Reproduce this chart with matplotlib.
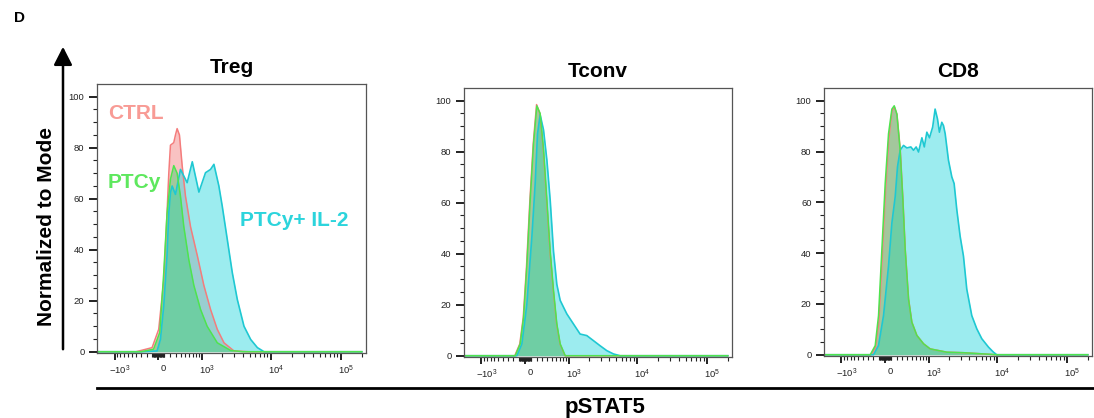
import numpy as np
import matplotlib
matplotlib.use("Agg")
import matplotlib.pyplot as plt
from matplotlib.ticker import FixedLocator, FixedFormatter
from matplotlib.transforms import ScaledTranslation
from matplotlib.patches import FancyArrowPatch
from matplotlib.lines import Line2D

plt.rcParams['font.family'] = ['Liberation Sans', 'DejaVu Sans']
plt.rcParams['mathtext.fontset'] = 'custom'
plt.rcParams['mathtext.rm'] = 'Liberation Sans'
plt.rcParams['mathtext.default'] = 'regular'

# pSTAT5 intensity (x) vs % of mode (y)
treg_ctrl_x = [-1800, -400, -105, 5, 88, 133, 174, 203, 263, 295, 327, 374, 431, 506, 632, 832, 1058, 1342, 1695, 2130, 2975, 5000, 200000]
treg_ctrl_y = [0, 0, 1.6, 8.8, 28, 49, 70, 81, 82, 85, 87.5, 85, 73, 61, 49, 37.5, 26, 16.6, 8.8, 3.5, 0.3, 0, 0]
treg_ptcy_x = [-1800, -300, -80, 22, 88, 143, 203, 263, 327, 395, 468, 588, 724, 936, 1190, 1695, 2665, 4000, 200000]
treg_ptcy_y = [0, 0, 1, 7.5, 31, 54, 67.6, 73, 70, 61, 49, 36, 26, 16.6, 10, 3.5, 0.5, 0, 0]
treg_il2_x = [-1800, -300, -22, 33, 88, 143, 174, 203, 233, 295, 395, 546, 679, 880, 1122, 1342, 1510, 1790, 2010, 2380, 2815, 3325, 4150, 5180, 6465, 8050, 200000]
treg_il2_y = [0, 0, 0.3, 4.8, 18, 37.5, 54.5, 62.4, 65, 61.7, 71.5, 66.3, 74.5, 62.6, 70.2, 71.5, 73.5, 65, 57, 44, 31, 20.5, 10, 4.8, 1.6, 0, 0]

tconv_ctrl_x = [-1800, -175, -90, -32, 22, 78, 134, 192, 252, 316, 384, 456, 533, 617, 710, 865, 200000]
tconv_ctrl_y = [0, 0, 4.6, 15, 35, 61, 83, 98.5, 95, 81, 61, 41, 25.6, 12.5, 4.6, 0, 0]
tconv_ptcy_x = [-1800, -168, -83, -27, 27, 83, 139, 197, 257, 321, 389, 461, 538, 622, 715, 870, 200000]
tconv_ptcy_y = [0, 0, 4.6, 15, 35, 61, 83, 98, 95, 81, 61, 41, 25.6, 12.5, 4.6, 0, 0]
tconv_il2_x = [-1800, -139, -55, 27, 111, 168, 209, 257, 321, 389, 461, 538, 622, 715, 816, 925, 1176, 1490, 1877, 2355, 2945, 3675, 4585, 5720, 200000]
tconv_il2_y = [0, 0, 4.6, 20, 46.6, 67.6, 87, 94.5, 88.6, 76.8, 61, 41, 28, 21.7, 19, 16.4, 12.5, 8.5, 7.9, 5.9, 3.9, 2, 0.7, 0, 0]

cd8_ctrl_x = [-1800, -240, -160, -105, -50, 5, 60, 115, 155, 200, 260, 310, 356, 426, 500, 624, 818, 1047, 1880, 3290, 5720, 9900, 200000]
cd8_ctrl_y = [0, 0, 3, 13, 38, 64, 85, 96, 97.5, 94.5, 80.5, 61, 41.4, 21.9, 12.8, 7.6, 4.3, 2.3, 1, 0.8, 0.4, 0, 0]
cd8_ptcy_x = [-1800, -257, -168, -111, -55, 0, 55, 111, 151, 197, 257, 308, 354, 424, 498, 622, 816, 1045, 1877, 3290, 5720, 9900, 200000]
cd8_ptcy_y = [0, 0, 3.6, 15.4, 41.4, 67.4, 87, 96.7, 98, 94.8, 80.5, 61, 41.4, 21.9, 12.8, 7.6, 4.3, 2.3, 1, 0.8, 0.4, 0, 0]
cd8_il2_x = [-1800, -197, -111, -27.5, 55, 111, 168, 209, 257, 321, 389, 476, 538, 605, 668, 765, 840, 925, 1020, 1145, 1250, 1360, 1455, 1580, 1675, 1775, 1985, 2225, 2405, 2635, 2945, 3290, 3675, 4340, 5125, 6050, 7545, 8900, 9900, 200000]
cd8_il2_y = [0, 0, 3.6, 15.4, 34.9, 51.8, 62.2, 74, 80.5, 82.4, 81.4, 81.8, 80.5, 81.8, 79.8, 85.4, 81.8, 87.6, 85.4, 89.6, 96.7, 92.8, 87.6, 91.5, 90.2, 87, 76.6, 70, 67.4, 57, 46.6, 38.8, 25.8, 15.4, 10.2, 6.3, 3, 1, 0, 0]

panels = ["Treg", "Tconv", "CD8"]
tick_vals = [-1000, 0, 1000, 10000, 100000]
tick_text = ["$-10^{3}$", "0", "$10^{3}$", "$10^{4}$", "$10^{5}$"]

# colours: CTRL, PTCy, PTCy+IL-2
col_ctrl = '#f47c7c'
col_ptcy = '#4ee44e'
col_il2 = '#1fc8d2'
fill_ctrl = '#f59a9a'
fill_ptcy = '#3ccf6e'
fill_il2 = '#3adbe0'

data = {
    "Treg": (treg_ctrl_x, treg_ctrl_y, treg_ptcy_x, treg_ptcy_y, treg_il2_x, treg_il2_y),
    "Tconv": (tconv_ctrl_x, tconv_ctrl_y, tconv_ptcy_x, tconv_ptcy_y, tconv_il2_x, tconv_il2_y),
    "CD8": (cd8_ctrl_x, cd8_ctrl_y, cd8_ptcy_x, cd8_ptcy_y, cd8_il2_x, cd8_il2_y),
}

W, H = 1094, 418
boxes = {"Treg": (97, 366, 84, 353), "Tconv": (464, 732, 88, 357), "CD8": (824, 1092, 88, 356)}

fig = plt.figure(figsize=(W / 100, H / 100), dpi=100)

C = 500.0
def fwd(x):
    return np.arcsinh(np.asarray(x) / C)
def inv(y):
    return C * np.sinh(np.asarray(y))

minor = list(range(-900, 0, 100)) + list(range(-90, 0, 10)) + list(range(10, 100, 10)) + \
    list(range(100, 1000, 100)) + list(range(2000, 10000, 1000)) + \
    list(range(20000, 100000, 10000)) + [200000]

axes = {}
for name in panels:
    l, r, t, b = boxes[name]
    ax = fig.add_axes([l / W, (H - b) / H, (r - l) / W, (b - t) / H])
    axes[name] = ax
    cx, cy, px, py, ix, iy = data[name]
    ax.set_xscale('function', functions=(fwd, inv))

    ax.fill_between(cx, cy, 0, color=fill_ctrl, alpha=0.6, lw=0)
    ax.plot(cx, cy, color=col_ctrl, lw=1.1)
    ax.fill_between(ix, iy, 0, color=fill_il2, alpha=0.5, lw=0)
    ax.plot(ix, iy, color=col_il2, lw=1.2)
    ax.fill_between(px, py, 0, color=fill_ptcy, alpha=0.45, lw=0)
    ax.plot(px, py, color=col_ptcy, lw=1.1)

    ax.set_xlim(-1850, 230000)
    ax.set_ylim(-0.5, 105)

    ax.xaxis.set_major_locator(FixedLocator(tick_vals))
    ax.xaxis.set_major_formatter(FixedFormatter(tick_text))
    ax.xaxis.set_minor_locator(FixedLocator(minor))
    ax.set_yticks([0, 20, 40, 60, 80, 100])
    ax.set_yticks(np.arange(0, 101, 5), minor=True)

    ax.tick_params(axis='both', which='major', direction='out', length=5, width=1.4,
                   labelsize=6.8, colors='#222222', pad=3)
    ax.tick_params(axis='both', which='minor', direction='out', length=3, width=0.8, colors='#222222')
    ax.tick_params(axis='y', which='major', length=6)
    for s in ax.spines.values():
        s.set_linewidth(0.9)
        s.set_color('#555555')

    shift = ScaledTranslation(5 / 100, 0, fig.dpi_scale_trans)
    for lab in ax.get_xticklabels():
        lab.set_transform(lab.get_transform() + shift)

    ax.set_title(name, fontsize=15, fontweight='bold', pad=8)

ax = axes["Treg"]
ax.text(0.041, 0.892, "CTRL", transform=ax.transAxes, color='#f89b95', fontsize=15,
        fontweight='bold', va='center', ha='left')
ax.text(0.041, 0.632, "PTCy", transform=ax.transAxes, color='#5ee85e', fontsize=15,
        fontweight='bold', va='center', ha='left')
ax.text(0.532, 0.491, "PTCy+ IL-2", transform=ax.transAxes, color='#2cd4dc', fontsize=15,
        fontweight='bold', va='center', ha='left')

# shared axis decorations
fig.text(14 / W, 1 - 18 / H, "D", fontsize=11, fontweight='bold', ha='left', va='center')
fig.text(47 / W, 1 - 227 / H, "Normalized to Mode", rotation=90, fontsize=15,
         fontweight='bold', ha='center', va='center')
arrow = FancyArrowPatch((63 / W, 1 - 352 / H), (63 / W, 1 - 44 / H), transform=fig.transFigure,
                        arrowstyle='-|>,head_length=0.55,head_width=0.28', mutation_scale=20,
                        color='black', lw=1.8)
fig.add_artist(arrow)
fig.add_artist(Line2D([97 / W, 1.0], [1 - 388 / H, 1 - 388 / H], transform=fig.transFigure,
                      color='black', lw=2))
fig.text(605 / W, 1 - 407 / H, "pSTAT5", fontsize=16, fontweight='bold', ha='center', va='center')

fig.savefig("out.png", dpi=100)
